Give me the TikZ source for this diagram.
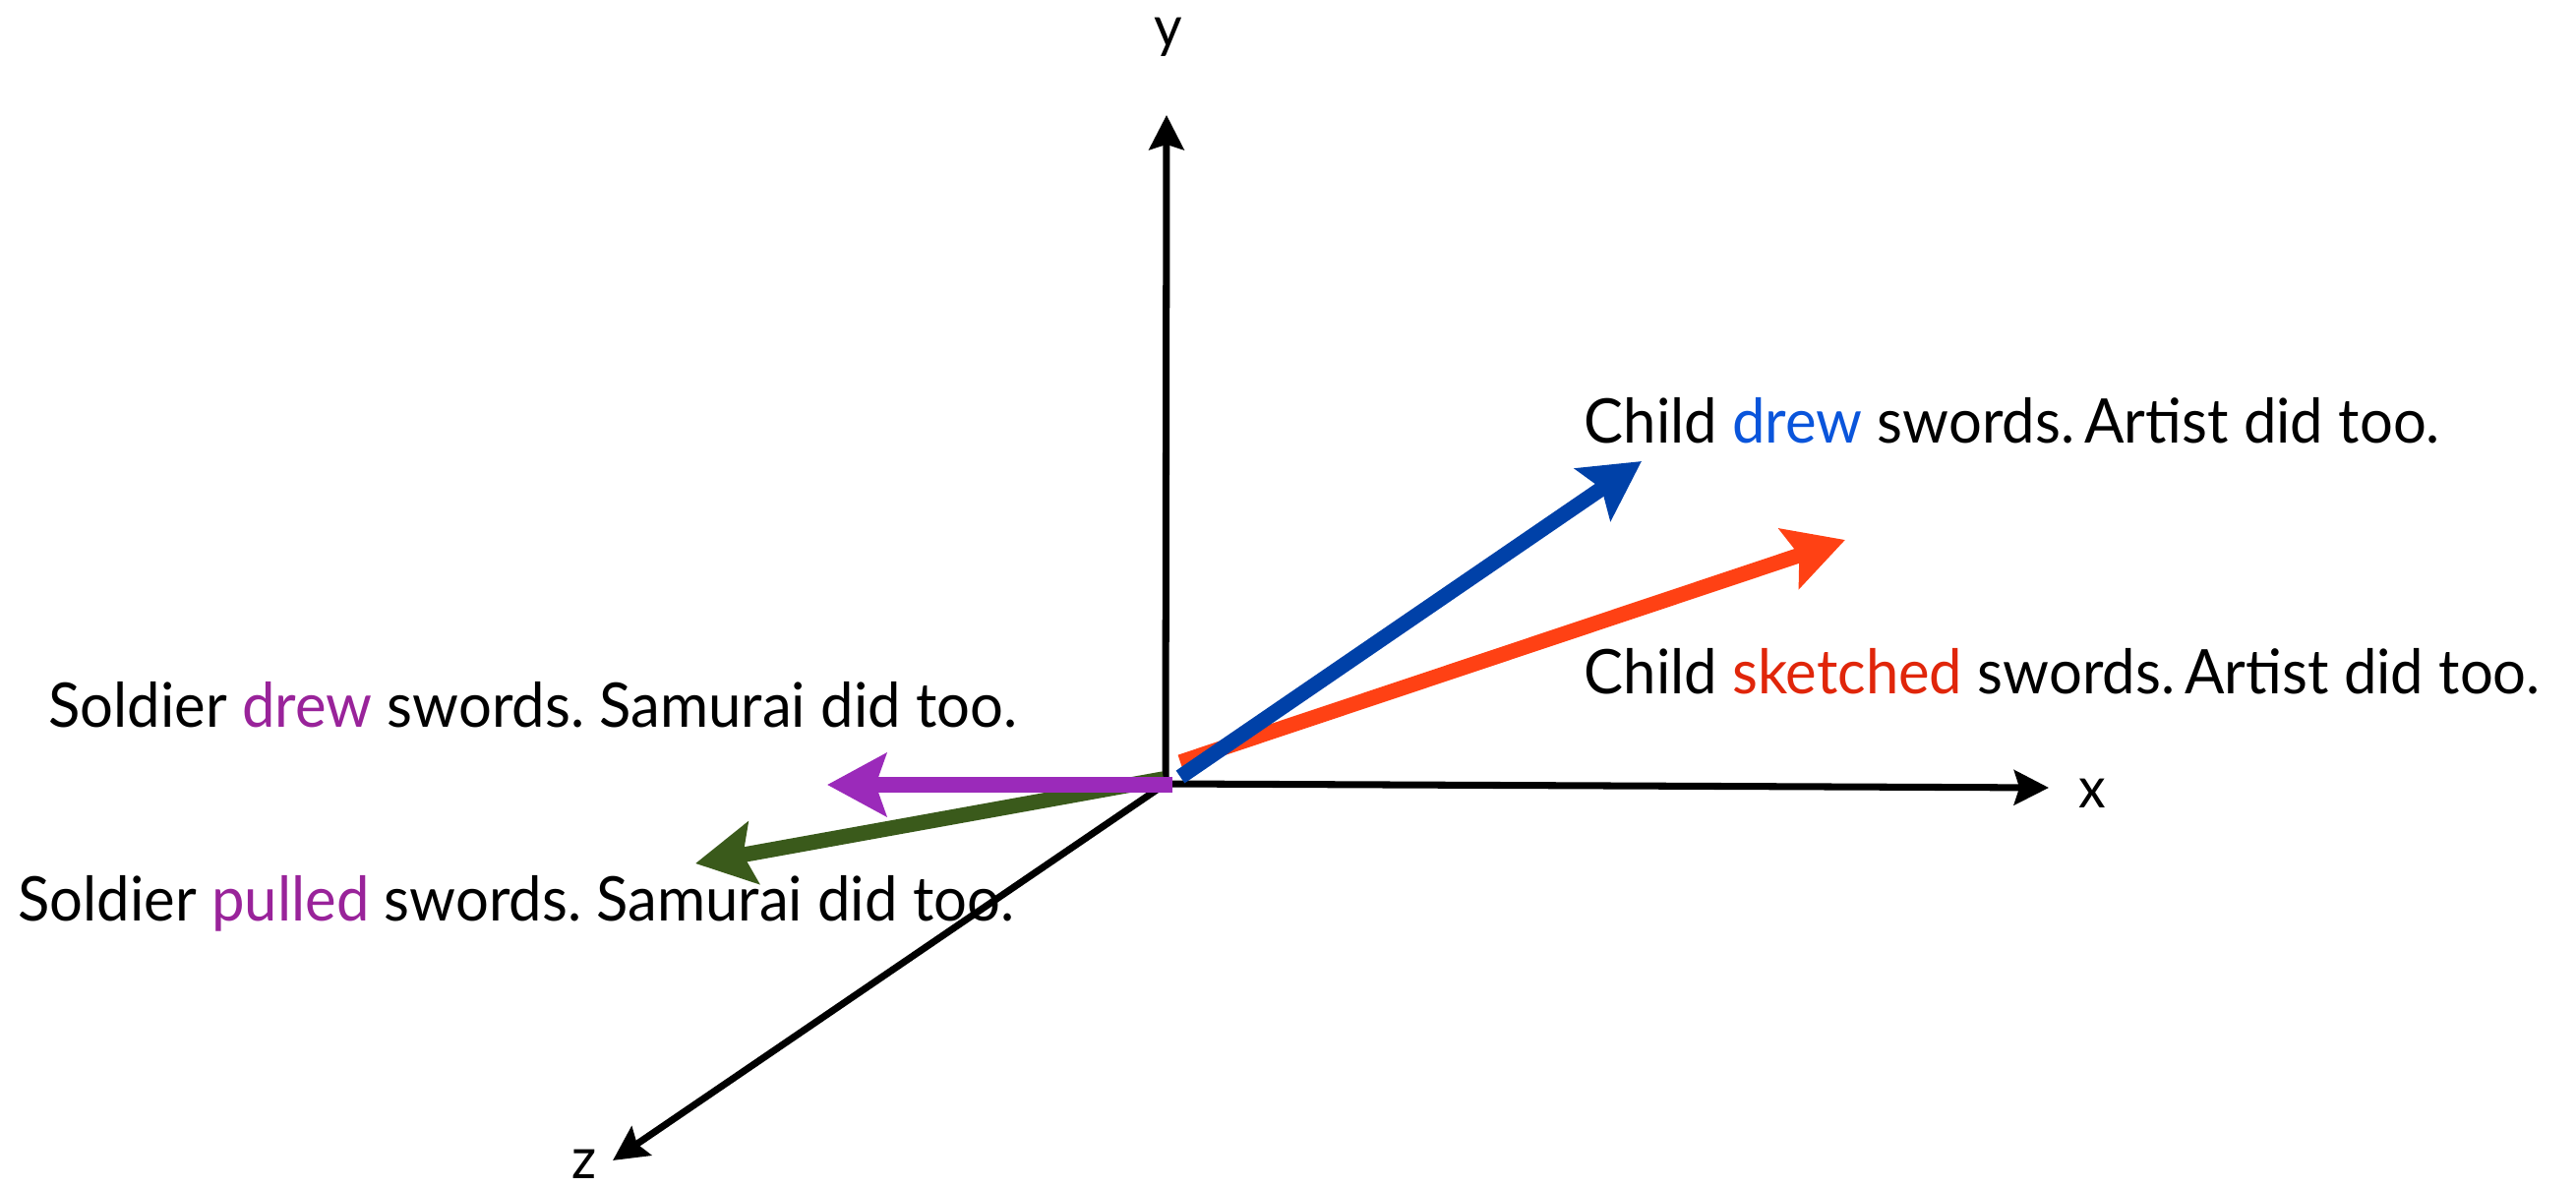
\documentclass[tikz,border=0pt]{standalone}
\usepackage{fontspec}
\setmainfont[FakeStretch=0.955]{Lato}
\usetikzlibrary{arrows.meta}
\definecolor{vblue}{HTML}{0041A8}
\definecolor{vorange}{HTML}{FF4114}
\definecolor{vpurple}{HTML}{9B2ABA}
\definecolor{vgreen}{HTML}{3A5A1B}
\definecolor{tblue}{HTML}{0A55DB}
\definecolor{tred}{HTML}{E0260A}
\definecolor{tpurple}{HTML}{99239A}
\frenchspacing
\begin{document}
\begin{tikzpicture}[x=0.01cm,y=-0.01cm,
  axis/.style={line width=2pt,-{Stealth[length=10pt,width=10pt,inset=1.5pt]}},
  vec/.style={line width=4.4pt,-{Stealth[length=17pt,width=18pt,inset=3pt]}},
  lbl/.style={anchor=base west,inner sep=0pt,font=\fontsize{17.8}{20}\selectfont},
  axlbl/.style={inner sep=0pt,font=\fontsize{16.5}{18}\selectfont}]
\useasboundingbox (0,0) rectangle (2619,1207);
% axes
\coordinate (O) at (1185,797);
\coordinate (Y) at (1186,117);
\coordinate (X) at (2083,801);
\coordinate (Z) at (623,1180);
\draw[axis] (O) -- (Y);
\draw[axis] (O) -- (X);
\draw[axis] (O) -- (Z);
\node[axlbl] (ly) at (1188,38) {y};
\node[axlbl] (lx) at (2127,807) {x};
\node[axlbl] (lz) at (594,1184) {z};
% vectors
\coordinate (gS) at (1183,792);
\coordinate (gE) at (707,878);
\coordinate (oS) at (1200,775);
\coordinate (oE) at (1876,549);
\coordinate (pS) at (1192,798);
\coordinate (pE) at (841,798);
\coordinate (bS) at (1200,790);
\coordinate (bE) at (1669,469);
\draw[vec,vgreen] (gS) -- (gE);
\draw[vec,vorange] (oS) -- (oE);
\draw[vec,vpurple] (pS) -- (pE);
\draw[vec,vblue] (bS) -- (bE);
% labels
\node[lbl] (t1) at (1610,451) {Child \textcolor{tblue}{drew} swords.\,Artist did too.};
\node[lbl] (t2) at (1610,706) {Child \textcolor{tred}{sketched} swords.\,Artist did too.};
\node[lbl] (t3) at (49,739) {Soldier \textcolor{tpurple}{drew} swords. Samurai did too.};
\node[lbl] (t4) at (18,936) {Soldier \textcolor{tpurple}{pulled} swords. Samurai did too.};
\end{tikzpicture}
\end{document}
